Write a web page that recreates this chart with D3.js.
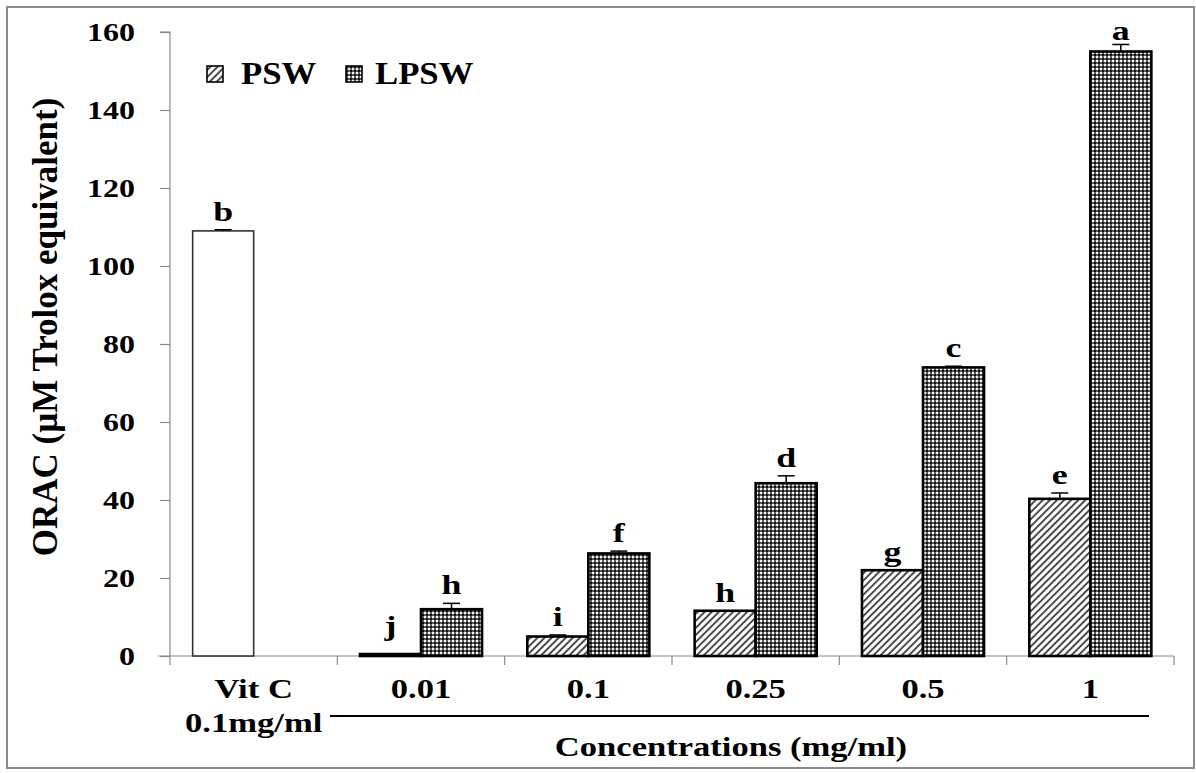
<!DOCTYPE html>
<html>
<head>
<meta charset="utf-8">
<script src="https://cdn.jsdelivr.net/npm/d3@7/dist/d3.min.js"></script>
<style>
  html, body { margin: 0; padding: 0; background: #fff; }
  svg { display: block; }
</style>
</head>
<body>
<svg id="chart" width="1196" height="773"></svg>
<script>
// Categories along the x axis
const categories = ["Vit C", "0.01", "0.1", "0.25", "0.5", "1"];
const series = ["PSW", "LPSW"];

// ORAC values (µM Trolox equivalent); null where a series has no bar
const pswValues  = [null, 0.5, 5.0, 11.6, 22.0, 40.3];
const lpswValues = [null, 12.0, 26.3, 44.3, 74.0, 155.0];
const pswErrors  = [null, 0.0, 0.4, 0.0, 0.0, 1.5];
const lpswErrors = [null, 1.5, 0.6, 1.9, 0.3, 1.8];
const pswLetters  = [null, "j", "i", "h", "g", "e"];
const lpswLetters = [null, "h", "f", "d", "c", "a"];

// Positive control
const controlValue = 109.0;
const controlError = 0.3;
const controlLetter = "b";

const yTicks = [0, 20, 40, 60, 80, 100, 120, 140, 160];

const svg = d3.select("#chart");
const SX = 1.28; // horizontal widening of the lettering
const FONT = "Liberation Serif";

// Bold serif text at (tx, ty), widened by a factor via textLength
function label(parent, tx, ty, str, size, anchor, widen) {
  const t = parent.append("text")
    .attr("x", tx).attr("y", ty)
    .attr("font-family", FONT).attr("font-weight", "bold").attr("fill", "#000")
    .attr("font-size", size).attr("text-anchor", anchor || "start")
    .text(str);
  const w = widen == null ? SX : widen;
  if (w !== 1) {
    const len = t.node().getComputedTextLength();
    t.attr("textLength", len * w).attr("lengthAdjust", "spacingAndGlyphs");
  }
  return t;
}

// Outer frame
svg.append("rect")
  .attr("x", 7).attr("y", 7).attr("width", 1187).attr("height", 761)
  .attr("fill", "none").attr("stroke", "#8a8a8a").attr("stroke-width", 2);

// Fill patterns
const defs = svg.append("defs");
const hatch = defs.append("pattern")
  .attr("id", "hatch").attr("patternUnits", "userSpaceOnUse")
  .attr("width", 5).attr("height", 5)
  .attr("patternTransform", "rotate(45)");
hatch.append("rect").attr("width", 5).attr("height", 5).attr("fill", "#fff");
hatch.append("line").attr("x1", 1).attr("y1", 0).attr("x2", 1).attr("y2", 5)
  .attr("stroke", "#000").attr("stroke-width", 1.4);

const dots = defs.append("pattern")
  .attr("id", "dots").attr("patternUnits", "userSpaceOnUse")
  .attr("width", 4).attr("height", 4);
dots.append("rect").attr("width", 4).attr("height", 4).attr("fill", "#5e5e5e");
dots.append("rect").attr("x", 0).attr("y", 0).attr("width", 2).attr("height", 2).attr("fill", "#f0f0f0");
dots.append("rect").attr("x", 2).attr("y", 2).attr("width", 2).attr("height", 2).attr("fill", "#111");

const fills = { PSW: "url(#hatch)", LPSW: "url(#dots)" };

// Scales
const x = d3.scaleBand().domain(categories).range([170, 1174]).padding(0);
const xs = d3.scaleBand().domain(series).range([0, x.bandwidth()])
  .paddingInner(0).paddingOuter(0.371);
const y = d3.scaleLinear().domain([0, 160]).range([656, 32]);

// Y axis
const yAxis = svg.append("g").attr("transform", "translate(170,0)")
  .call(d3.axisLeft(y).tickValues(yTicks).tickSize(10).tickFormat(""));
yAxis.select(".domain").attr("stroke", "#8a8a8a").attr("stroke-width", 1.2)
  .attr("d", `M-10,${y(160)}H0V${y(0)}`);
yAxis.selectAll(".tick line").attr("stroke", "#8a8a8a").attr("stroke-width", 1.2);

const yLab = svg.append("g");
yTicks.forEach(t => label(yLab, 135, y(t) + 8.5, String(t), 25, "end"));

// X axis
const xAxis = svg.append("g").attr("transform", `translate(0,${y(0)})`)
  .call(d3.axisBottom(x).tickSize(0).tickFormat(""));
xAxis.select(".domain").attr("stroke", "#8a8a8a").attr("stroke-width", 1.2)
  .attr("d", `M158,0H1174`);
const boundaries = categories.map(c => x(c)).concat([x.range()[1]]);
xAxis.selectAll("line.bound").data(boundaries).join("line")
  .attr("class", "bound")
  .attr("x1", d => d).attr("x2", d => d).attr("y1", 0).attr("y2", 9)
  .attr("stroke", "#8a8a8a").attr("stroke-width", 1.2);

// Category labels
const xLab = svg.append("g");
categories.forEach(c => label(xLab, x(c) + x.bandwidth() / 2, 698, c, 27, "middle"));
label(xLab, x("Vit C") + x.bandwidth() / 2, 732, "0.1mg/ml", 27, "middle");

// Bracket line under the concentration labels
svg.append("line")
  .attr("x1", 330).attr("x2", 1149).attr("y1", 716).attr("y2", 716)
  .attr("stroke", "#000").attr("stroke-width", 2.2);

// Axis titles
label(svg, 731, 756, "Concentrations (mg/ml)", 27, "middle");
label(svg, 0, 0, "ORAC (µM Trolox equivalent)", 35, "middle", 1)
  .attr("transform", "translate(57,327) rotate(-90)");

// Bars
const barData = [];
categories.forEach((c, i) => {
  if (pswValues[i] != null) barData.push({ cat: c, s: "PSW", v: pswValues[i], e: pswErrors[i], l: pswLetters[i] });
  if (lpswValues[i] != null) barData.push({ cat: c, s: "LPSW", v: lpswValues[i], e: lpswErrors[i], l: lpswLetters[i] });
});

const plot = svg.append("g");

// Vit C control bar in the first slot of its group
plot.append("rect")
  .attr("x", x("Vit C") + xs("PSW"))
  .attr("y", y(controlValue))
  .attr("width", xs.bandwidth())
  .attr("height", y(0) - y(controlValue))
  .attr("fill", "#fff").attr("stroke", "#333").attr("stroke-width", 1.6);

plot.selectAll("rect.bar").data(barData).join("rect")
  .attr("class", "bar")
  .attr("x", d => x(d.cat) + xs(d.s))
  .attr("y", d => y(d.v))
  .attr("width", xs.bandwidth())
  .attr("height", d => y(0) - y(d.v))
  .attr("fill", d => fills[d.s])
  .attr("stroke", "#000").attr("stroke-width", 2.6);

// Error bars (upper whisker only)
const errData = barData.concat([{ cat: "Vit C", s: "PSW", v: controlValue, e: controlError, l: controlLetter }]);
const eg = plot.append("g").attr("stroke", "#000").attr("stroke-width", 1.5);
errData.filter(d => d.e > 0).forEach(d => {
  const cx = x(d.cat) + xs(d.s) + xs.bandwidth() / 2;
  eg.append("line").attr("x1", cx).attr("x2", cx).attr("y1", y(d.v)).attr("y2", y(d.v + d.e));
  eg.append("line").attr("x1", cx - 8.5).attr("x2", cx + 8.5).attr("y1", y(d.v + d.e)).attr("y2", y(d.v + d.e));
});

// Significance letters
const sig = plot.append("g");
errData.forEach(d => {
  const cx = x(d.cat) + xs(d.s) + xs.bandwidth() / 2;
  const off = d.l === "j" ? 19 : (d.l === "a" ? 4 : 9);
  label(sig, cx, y(d.v + d.e) - off, d.l, 28, "middle");
});

// Legend
const legend = svg.append("g");
const legendItems = [
  { s: "PSW", sx: 207, tx: 241 },
  { s: "LPSW", sx: 346, tx: 375 }
];
legendItems.forEach(it => {
  legend.append("rect")
    .attr("x", it.sx).attr("y", 66).attr("width", 16).attr("height", 16)
    .attr("fill", fills[it.s]).attr("stroke", "#000").attr("stroke-width", 1.6);
  label(legend, it.tx, 84, it.s, 31, "start", 1.12);
});
</script>
</body>
</html>
